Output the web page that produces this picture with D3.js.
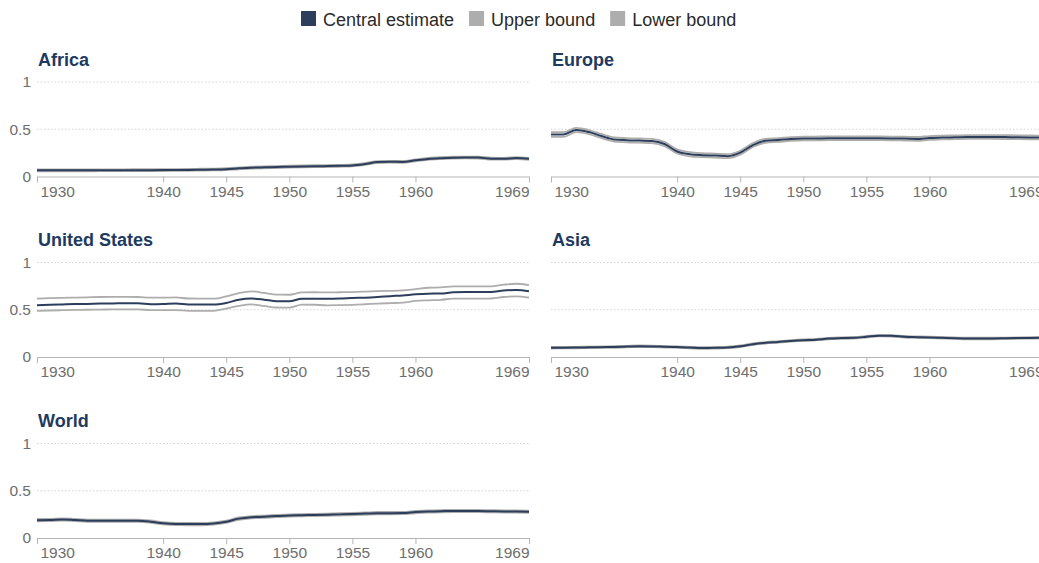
<!DOCTYPE html>
<html>
<head>
<meta charset="utf-8">
<script src="https://cdn.jsdelivr.net/npm/d3@7"></script>
<style>
  html, body { margin: 0; padding: 0; background: #fff; }
  svg { display: block; font-family: "Liberation Sans", Arial, Helvetica, sans-serif; }
</style>
</head>
<body>
<svg id="chart" width="1039" height="563"></svg>
<script>
// Years covered by every series
const years = [1930,1931,1932,1933,1934,1935,1936,1937,1938,1939,
               1940,1941,1942,1943,1944,1945,1946,1947,1948,1949,
               1950,1951,1952,1953,1954,1955,1956,1957,1958,1959,
               1960,1961,1962,1963,1964,1965,1966,1967,1968,1969];

const xTickYears = [1930, 1940, 1945, 1950, 1955, 1960, 1969];
const yTickValues = [0, 0.5, 1];
const yTickLabels = ["0", "0.5", "1"];

const legendLabels = ["Central estimate", "Upper bound", "Lower bound"];
const regionNames = ["Africa", "Europe", "United States", "Asia", "World"];

// Africa
const africaCentral = [0.065,0.065,0.065,0.065,0.065,0.066,0.066,0.066,0.067,0.067,
                       0.068,0.069,0.070,0.072,0.074,0.078,0.086,0.093,0.097,0.100,
                       0.104,0.107,0.109,0.110,0.113,0.117,0.132,0.153,0.156,0.154,
                       0.171,0.186,0.194,0.199,0.201,0.200,0.189,0.188,0.195,0.187];
const africaUpper = [0.075,0.075,0.075,0.075,0.075,0.076,0.076,0.076,0.077,0.077,
                     0.078,0.079,0.080,0.082,0.084,0.088,0.096,0.103,0.107,0.110,
                     0.114,0.117,0.119,0.120,0.123,0.127,0.142,0.163,0.166,0.164,
                     0.181,0.196,0.204,0.209,0.211,0.210,0.199,0.198,0.205,0.197];
const africaLower = [0.055,0.055,0.055,0.055,0.055,0.056,0.056,0.056,0.057,0.057,
                     0.058,0.059,0.060,0.062,0.064,0.068,0.076,0.083,0.087,0.090,
                     0.094,0.097,0.099,0.100,0.103,0.107,0.122,0.143,0.146,0.144,
                     0.161,0.176,0.184,0.189,0.191,0.190,0.179,0.178,0.185,0.177];

// Europe
const europeCentral = [0.445,0.445,0.492,0.470,0.428,0.392,0.384,0.380,0.376,0.344,
                       0.265,0.235,0.225,0.221,0.215,0.252,0.333,0.378,0.386,0.396,
                       0.402,0.403,0.404,0.404,0.404,0.404,0.404,0.403,0.401,0.398,
                       0.408,0.412,0.415,0.418,0.418,0.418,0.417,0.416,0.414,0.412];
const europeUpper = [0.470,0.470,0.515,0.492,0.450,0.414,0.406,0.402,0.398,0.366,
                     0.287,0.257,0.246,0.242,0.236,0.273,0.354,0.399,0.406,0.416,
                     0.422,0.423,0.424,0.424,0.424,0.424,0.424,0.423,0.421,0.418,
                     0.428,0.432,0.435,0.438,0.438,0.438,0.437,0.436,0.434,0.432];
const europeLower = [0.420,0.420,0.469,0.448,0.406,0.370,0.362,0.358,0.354,0.322,
                     0.243,0.213,0.204,0.200,0.194,0.231,0.312,0.357,0.366,0.376,
                     0.382,0.383,0.384,0.384,0.384,0.384,0.384,0.383,0.381,0.378,
                     0.388,0.392,0.395,0.398,0.398,0.398,0.397,0.396,0.394,0.392];

// United States
const usCentral = [0.547,0.552,0.556,0.560,0.562,0.565,0.567,0.568,0.568,0.558,
                   0.560,0.565,0.556,0.555,0.555,0.572,0.606,0.618,0.607,0.590,
                   0.589,0.617,0.617,0.616,0.618,0.624,0.628,0.635,0.644,0.652,
                   0.663,0.670,0.672,0.684,0.687,0.687,0.688,0.705,0.709,0.695];
const usUpper = [0.618,0.622,0.626,0.629,0.632,0.635,0.636,0.636,0.635,0.628,
                 0.628,0.630,0.619,0.618,0.618,0.642,0.677,0.695,0.678,0.660,
                 0.659,0.684,0.685,0.683,0.685,0.687,0.692,0.698,0.700,0.705,
                 0.719,0.733,0.736,0.747,0.747,0.747,0.748,0.765,0.775,0.761];
const usLower = [0.488,0.492,0.495,0.498,0.500,0.502,0.504,0.505,0.505,0.495,
                 0.495,0.497,0.489,0.488,0.488,0.512,0.540,0.556,0.540,0.524,
                 0.523,0.555,0.553,0.547,0.549,0.552,0.558,0.565,0.570,0.575,
                 0.593,0.600,0.605,0.618,0.618,0.618,0.619,0.635,0.642,0.628];

// Asia
const asiaCentral = [0.098,0.099,0.100,0.102,0.104,0.106,0.110,0.114,0.112,0.108,
                     0.105,0.100,0.095,0.097,0.101,0.114,0.135,0.150,0.160,0.170,
                     0.178,0.183,0.195,0.200,0.203,0.214,0.226,0.224,0.214,0.210,
                     0.207,0.203,0.199,0.196,0.196,0.196,0.198,0.200,0.202,0.203];
const asiaUpper = [0.106,0.107,0.108,0.110,0.112,0.114,0.118,0.122,0.120,0.116,
                   0.113,0.108,0.103,0.105,0.109,0.122,0.143,0.158,0.168,0.178,
                   0.186,0.191,0.203,0.208,0.211,0.222,0.234,0.232,0.222,0.218,
                   0.215,0.211,0.207,0.204,0.204,0.204,0.206,0.208,0.210,0.211];
const asiaLower = [0.090,0.091,0.092,0.094,0.096,0.098,0.102,0.106,0.104,0.100,
                   0.097,0.092,0.087,0.089,0.093,0.106,0.127,0.142,0.152,0.162,
                   0.170,0.175,0.187,0.192,0.195,0.206,0.218,0.216,0.206,0.202,
                   0.199,0.195,0.191,0.188,0.188,0.188,0.190,0.192,0.194,0.195];

// World
const worldCentral = [0.189,0.190,0.196,0.190,0.183,0.182,0.182,0.182,0.182,0.173,
                      0.156,0.148,0.147,0.147,0.153,0.172,0.205,0.220,0.225,0.232,
                      0.238,0.241,0.244,0.247,0.250,0.253,0.258,0.263,0.263,0.264,
                      0.274,0.281,0.284,0.285,0.285,0.285,0.283,0.281,0.280,0.278];
const worldUpper = [0.201,0.202,0.208,0.202,0.195,0.194,0.194,0.194,0.194,0.185,
                    0.168,0.160,0.159,0.159,0.165,0.184,0.217,0.232,0.237,0.244,
                    0.250,0.253,0.256,0.259,0.262,0.265,0.270,0.275,0.275,0.276,
                    0.286,0.293,0.296,0.297,0.297,0.297,0.295,0.293,0.292,0.290];
const worldLower = [0.177,0.178,0.184,0.178,0.171,0.170,0.170,0.170,0.170,0.161,
                    0.144,0.136,0.135,0.135,0.141,0.160,0.193,0.208,0.213,0.220,
                    0.226,0.229,0.232,0.235,0.238,0.241,0.246,0.251,0.251,0.252,
                    0.262,0.269,0.272,0.273,0.273,0.273,0.271,0.269,0.268,0.266];

// ---- styling / layout ----
const COLOR_CENTRAL = "#2c3e5b";
const COLOR_BOUND = "#adadad";
const COLOR_TITLE = "#1f3a5f";
const COLOR_TICK = "#6e6e6e";
const COLOR_AXIS = "#b5b5b5";
const COLOR_GRID = "#d2d2d2";

const panelWidth = 492;
const panelHeight = 94.5;
const colLeft = [37, 551];
const rowBase = [176.5, 357, 538];

const panels = [
  { name: regionNames[0], col: 0, row: 0, central: africaCentral, upper: africaUpper, lower: africaLower, yLabels: true },
  { name: regionNames[1], col: 1, row: 0, central: europeCentral, upper: europeUpper, lower: europeLower, yLabels: false },
  { name: regionNames[2], col: 0, row: 1, central: usCentral, upper: usUpper, lower: usLower, yLabels: true },
  { name: regionNames[3], col: 1, row: 1, central: asiaCentral, upper: asiaUpper, lower: asiaLower, yLabels: false },
  { name: regionNames[4], col: 0, row: 2, central: worldCentral, upper: worldUpper, lower: worldLower, yLabels: true }
];

const svg = d3.select("#chart");

// Legend across the top
const legend = svg.append("g").attr("class", "legend");
const legendColors = [COLOR_CENTRAL, COLOR_BOUND, COLOR_BOUND];
let lx = 301;
legendLabels.forEach((label, i) => {
  legend.append("rect")
    .attr("x", lx).attr("y", 11).attr("width", 15).attr("height", 15)
    .attr("fill", legendColors[i]);
  const t = legend.append("text")
    .attr("x", lx + 22).attr("y", 25.5)
    .attr("font-size", 18).attr("fill", "#2a2a2a")
    .text(label);
  lx += 22 + t.node().getComputedTextLength() + 15;
});

panels.forEach(p => {
  const x0 = colLeft[p.col];
  const base = rowBase[p.row];
  const x = d3.scaleLinear().domain([years[0], years[years.length - 1]]).range([x0, x0 + panelWidth]);
  const y = d3.scaleLinear().domain([0, 1]).range([base, base - panelHeight]);

  const g = svg.append("g").attr("class", "panel");

  // Title
  g.append("text")
    .attr("x", x0 + 1).attr("y", base - 111)
    .attr("font-size", 18).attr("font-weight", "bold")
    .attr("fill", COLOR_TITLE)
    .text(p.name);

  // Dotted gridlines above zero
  g.selectAll("line.grid")
    .data(yTickValues.filter(v => v > 0))
    .join("line")
    .attr("class", "grid")
    .attr("x1", x0).attr("x2", x0 + panelWidth)
    .attr("y1", d => y(d)).attr("y2", d => y(d))
    .attr("stroke", COLOR_GRID).attr("stroke-width", 1)
    .attr("stroke-dasharray", "1.5,2");

  // Y tick labels
  if (p.yLabels) {
    g.selectAll("text.ytick")
      .data(yTickValues)
      .join("text")
      .attr("class", "ytick")
      .attr("x", x0 - 6).attr("y", d => y(d))
      .attr("dy", "0.35em")
      .attr("text-anchor", "end")
      .attr("font-size", 15.5).attr("fill", COLOR_TICK)
      .text((d, i) => yTickLabels[i]);
  }

  // X axis
  const axis = d3.axisBottom(x)
    .tickValues(xTickYears)
    .tickFormat(d3.format("d"))
    .tickSize(6)
    .tickSizeOuter(0);
  const ax = g.append("g").attr("transform", `translate(0,${base})`).call(axis);
  ax.attr("font-family", null);
  ax.select(".domain").attr("stroke", COLOR_AXIS);
  ax.selectAll(".tick line").attr("stroke", COLOR_AXIS);
  ax.selectAll(".tick text")
    .attr("font-size", 15.5).attr("fill", COLOR_TICK)
    .attr("y", 9)
    .attr("dx", d => d === xTickYears[0] ? 3 : 0)
    .attr("text-anchor", d => d === xTickYears[0] ? "start" : (d === xTickYears[xTickYears.length - 1] ? "end" : "middle"));

  const line = vals => d3.line()
    .x((d, i) => x(years[i]))
    .y(d => y(d))
    .curve(d3.curveMonotoneX)(vals);

  g.append("path").attr("d", line(p.lower))
    .attr("fill", "none").attr("stroke", COLOR_BOUND).attr("stroke-width", 1.8);
  g.append("path").attr("d", line(p.upper))
    .attr("fill", "none").attr("stroke", COLOR_BOUND).attr("stroke-width", 1.8);
  g.append("path").attr("d", line(p.central))
    .attr("fill", "none").attr("stroke", COLOR_CENTRAL).attr("stroke-width", 2);
});
</script>
</body>
</html>
